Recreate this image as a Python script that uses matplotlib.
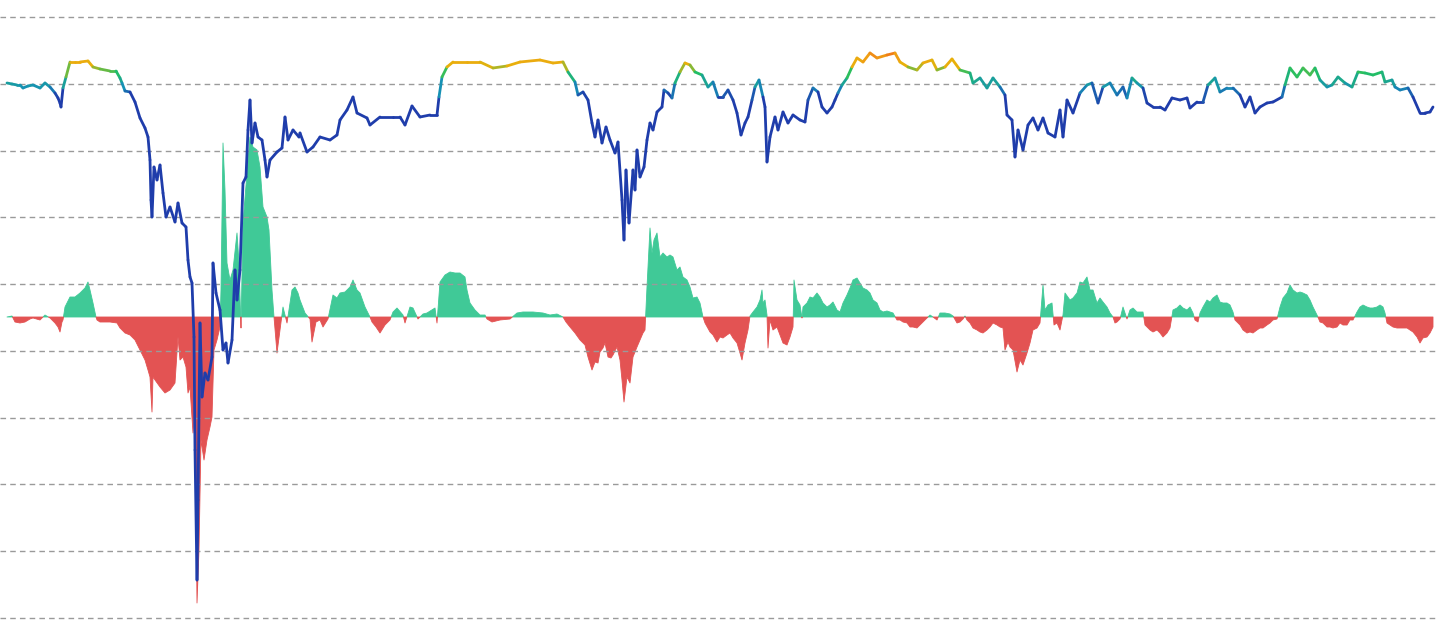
import numpy as np
import matplotlib
matplotlib.use("Agg")
import matplotlib.pyplot as plt
from matplotlib.collections import LineCollection
from matplotlib.colors import LinearSegmentedColormap, Normalize

# ---- line series (time index, value) ----
line_t = [7, 12, 17, 20, 23, 28, 33, 40, 45, 50, 55, 58, 60, 61, 63, 66, 70, 75, 80, 88,
          93, 100, 110, 116, 120, 122, 125, 130, 135, 140, 145, 148, 150, 151, 152, 154, 157, 160, 163, 166,
          170, 175, 178, 182, 186, 188, 190, 192, 194, 195, 197, 198, 200, 202, 205, 208, 212, 213, 216, 220,
          223, 226, 228, 232, 235, 237, 240, 243, 246, 248, 250, 252, 255, 258, 262, 265, 267, 270, 277, 282,
          285, 288, 293, 299, 300, 307, 313, 320, 330, 337, 340, 347, 353, 357, 367, 370, 380, 393, 400, 405,
          412, 420, 430, 437, 439, 442, 447, 453, 467, 480, 493, 507, 520, 540, 553, 563, 568, 575, 578, 583,
          588, 592, 595, 598, 602, 606, 610, 615, 618, 622, 624, 626, 629, 633, 635, 637, 640, 644, 647, 650,
          653, 657, 662, 664, 668, 672, 675, 680, 685, 690, 695, 702, 708, 713, 718, 723, 728, 733, 737, 741,
          745, 748, 752, 755, 759, 763, 765, 767, 770, 775, 778, 783, 788, 793, 800, 805, 808, 813, 818, 822,
          827, 832, 835, 838, 842, 847, 852, 857, 863, 870, 877, 887, 895, 900, 908, 917, 923, 932, 937, 945,
          952, 960, 970, 973, 980, 987, 993, 1000, 1005, 1007, 1012, 1015, 1018, 1023, 1028, 1033, 1038, 1043, 1048, 1055,
          1060, 1063, 1067, 1073, 1080, 1087, 1092, 1098, 1103, 1110, 1117, 1123, 1127, 1132, 1137, 1143, 1147, 1153, 1160, 1165,
          1172, 1180, 1187, 1190, 1197, 1203, 1208, 1215, 1220, 1227, 1233, 1240, 1245, 1250, 1255, 1260, 1267, 1273, 1282, 1285,
          1290, 1297, 1303, 1310, 1315, 1320, 1327, 1332, 1338, 1345, 1352, 1358, 1365, 1373, 1382, 1385, 1392, 1395, 1400, 1408,
          1413, 1420, 1425, 1430, 1433]
line_v = [535, 534, 533, 533, 530, 532, 533, 530, 535, 531, 525, 520, 515, 511, 530, 541, 556, 556, 556, 557,
          551, 549, 547, 547, 540, 535, 527, 526, 516, 500, 490, 481, 458, 418, 401, 451, 438, 453, 425, 401,
          411, 396, 415, 395, 391, 358, 341, 335, 281, 168, 38, 118, 295, 221, 245, 238, 261, 355, 325, 308,
          268, 275, 255, 278, 348, 318, 348, 435, 441, 488, 518, 475, 495, 481, 478, 458, 441, 458, 466, 470,
          501, 478, 488, 481, 485, 466, 471, 481, 478, 483, 498, 508, 521, 505, 500, 493, 501, 501, 501, 493,
          512, 501, 503, 503, 521, 541, 551, 556, 556, 556, 550, 552, 556, 558, 555, 556, 546, 536, 523, 526,
          518, 495, 481, 498, 475, 491, 478, 465, 476, 418, 378, 448, 395, 448, 428, 468, 441, 451, 478, 495,
          488, 506, 511, 528, 525, 520, 535, 546, 555, 553, 546, 543, 531, 536, 521, 521, 528, 518, 505, 483,
          495, 501, 518, 531, 538, 521, 511, 456, 481, 501, 488, 506, 495, 503, 498, 496, 518, 530, 526, 511,
          505, 511, 518, 525, 533, 540, 551, 560, 556, 565, 560, 563, 565, 556, 551, 548, 555, 558, 548, 551,
          559, 548, 545, 535, 540, 530, 540, 531, 523, 503, 498, 461, 488, 468, 493, 500, 488, 500, 485, 481,
          508, 481, 518, 505, 525, 533, 535, 515, 531, 535, 523, 531, 520, 540, 535, 530, 515, 511, 511, 508,
          520, 518, 520, 510, 516, 516, 533, 540, 526, 530, 530, 523, 511, 521, 505, 511, 515, 516, 521, 533,
          550, 541, 550, 543, 550, 538, 531, 533, 541, 535, 531, 546, 545, 543, 546, 536, 538, 531, 528, 530,
          521, 505, 505, 506, 511]

# ---- oscillator bars (time index, value) ----
bar_t = [7, 12, 15, 20, 25, 30, 33, 40, 45, 50, 55, 58, 60, 62, 63, 65, 70, 75, 80, 85,
         88, 90, 93, 96, 97, 100, 110, 117, 120, 125, 130, 135, 140, 145, 148, 150, 152, 153, 155, 160,
         165, 170, 175, 178, 180, 183, 186, 188, 190, 193, 195, 197, 199, 201, 204, 207, 210, 212, 214, 217,
         220, 221, 223, 225, 227, 230, 233, 237, 239, 241, 243, 247, 250, 253, 257, 260, 263, 267, 269, 272,
         274, 277, 280, 283, 287, 292, 295, 298, 300, 305, 310, 312, 316, 320, 323, 328, 333, 337, 340, 345,
         350, 353, 357, 360, 365, 370, 372, 376, 380, 385, 390, 393, 397, 403, 405, 410, 413, 418, 423, 427,
         435, 437, 440, 445, 450, 455, 460, 465, 467, 470, 475, 480, 485, 487, 492, 500, 510, 517, 523, 533,
         543, 550, 557, 563, 566, 570, 575, 580, 585, 588, 592, 595, 598, 600, 603, 605, 608, 611, 613, 617,
         620, 622, 624, 627, 630, 633, 637, 640, 643, 645, 647, 650, 652, 654, 657, 660, 663, 667, 670, 673,
         677, 680, 683, 687, 690, 693, 697, 700, 703, 705, 710, 713, 717, 720, 723, 727, 730, 733, 737, 740,
         742, 745, 748, 750, 753, 757, 760, 762, 763, 765, 767, 768, 770, 773, 777, 780, 783, 787, 790, 793,
         794, 797, 800, 802, 803, 807, 810, 813, 817, 820, 823, 827, 830, 833, 837, 840, 843, 847, 850, 853,
         857, 860, 863, 867, 870, 873, 877, 880, 883, 887, 890, 893, 897, 900, 903, 907, 910, 913, 917, 920,
         923, 927, 930, 933, 937, 940, 945, 950, 953, 957, 960, 963, 965, 967, 970, 973, 977, 980, 983, 987,
         990, 993, 997, 1000, 1003, 1005, 1008, 1010, 1013, 1017, 1020, 1023, 1027, 1030, 1033, 1037, 1040, 1043, 1045, 1048,
         1052, 1054, 1057, 1060, 1063, 1065, 1070, 1073, 1077, 1080, 1083, 1087, 1090, 1093, 1097, 1100, 1103, 1107, 1110, 1113,
         1115, 1117, 1120, 1123, 1127, 1130, 1133, 1137, 1140, 1143, 1145, 1150, 1153, 1157, 1160, 1163, 1167, 1170, 1173, 1177,
         1180, 1183, 1187, 1190, 1193, 1195, 1198, 1200, 1203, 1207, 1210, 1213, 1217, 1220, 1223, 1227, 1230, 1233, 1235, 1240,
         1243, 1247, 1250, 1253, 1257, 1260, 1263, 1267, 1270, 1273, 1277, 1280, 1283, 1287, 1290, 1293, 1297, 1300, 1303, 1307,
         1310, 1313, 1317, 1320, 1323, 1327, 1330, 1333, 1337, 1340, 1343, 1347, 1350, 1353, 1357, 1360, 1363, 1367, 1370, 1373,
         1377, 1380, 1383, 1385, 1387, 1390, 1393, 1397, 1400, 1403, 1407, 1410, 1413, 1417, 1420, 1423, 1427, 1430, 1433]
bar_v = [0, 1, -5, -6, -5, -2, -1, -3, 2, -1, -6, -10, -15, -5, -3, 10, 20, 20, 24, 29,
         35, 27, 14, 0, -3, -5, -5, -6, -11, -16, -18, -23, -33, -43, -53, -60, -95, -60, -63, -70,
         -76, -73, -66, -20, -43, -40, -50, -76, -70, -116, -83, -286, -233, -123, -143, -123, -110, -100, -33, -23,
         -10, 27, 174, 127, 54, 37, 47, 84, 54, -11, 94, 144, 180, 170, 167, 150, 110, 100, 87, 27,
         0, -36, -13, 10, -6, 27, 30, 24, 17, 4, -2, -25, -5, -3, -10, -2, 22, 19, 24, 25,
         30, 37, 27, 24, 10, 0, -5, -10, -16, -8, -3, 5, 9, 2, -6, 10, 9, -2, 3, 4,
         9, -6, 35, 42, 45, 44, 44, 40, 27, 14, 7, 2, 2, -2, -5, -3, -2, 4, 5, 5,
         4, 2, 3, 0, -5, -10, -16, -23, -28, -40, -53, -45, -46, -35, -31, -26, -40, -41, -38, -30,
         -43, -63, -85, -60, -66, -40, -30, -23, -16, -13, 30, 89, 64, 77, 84, 60, 64, 60, 62, 60,
         47, 50, 40, 37, 30, 19, 20, 14, 0, -6, -15, -18, -25, -20, -21, -18, -16, -21, -26, -36,
         -43, -26, -13, 1, 5, 10, 17, 27, 14, 17, 2, -31, -3, -13, -10, -18, -26, -28, -20, -10,
         37, 17, 12, -1, 10, 14, 20, 19, 24, 20, 14, 10, 12, 15, 7, 5, 14, 22, 29, 37,
         39, 34, 29, 27, 24, 17, 14, 7, 5, 6, 5, 4, -3, -3, -5, -6, -10, -10, -11, -8,
         -5, -1, 2, 0, -3, 4, 4, 3, 1, -6, -5, -2, 1, -3, -6, -11, -13, -15, -16, -13,
         -10, -6, -8, -10, -11, -33, -25, -30, -33, -55, -43, -48, -36, -26, -13, -11, -6, 32, 7, 12,
         14, -8, -6, -13, 2, 24, 17, 19, 24, 35, 34, 40, 27, 27, 14, 19, 15, 10, 4, 0,
         -6, -5, -2, 10, -2, 7, 9, 5, 5, 5, -8, -13, -15, -13, -16, -20, -16, -11, 7, 9,
         12, 9, 7, 10, 4, -3, -5, 4, 10, 17, 15, 19, 22, 15, 14, 14, 12, 5, -3, -8,
         -13, -16, -15, -16, -13, -11, -11, -8, -6, -3, -2, 10, 19, 24, 32, 27, 24, 25, 24, 22,
         17, 10, 2, -5, -6, -10, -10, -11, -10, -6, -8, -8, -3, -3, 5, 10, 12, 10, 9, 9,
         10, 12, 10, 4, -6, -8, -10, -11, -11, -11, -11, -13, -15, -20, -26, -21, -20, -16, -10]

W, H = 1440, 633
fig = plt.figure(figsize=(W / 100, H / 100), dpi=100)
fig.patch.set_facecolor("white")
rect = [0, 0, 1436 / 1440, 1]

# bars axis (with grid)
axb = fig.add_axes(rect)
axb.set_xlim(0, 1436)
axb.set_ylim(-316, 317)
bt = np.array(bar_t, float)
bv = np.array(bar_v, float)
green = "#40c997"
red = "#e35353"
axb.fill_between(bt, 0, bv, where=bv >= 0, interpolate=True, color=green, lw=0.6, edgecolor=green)
axb.fill_between(bt, 0, bv, where=bv <= 0, interpolate=True, color=red, lw=0.6, edgecolor=red)
axb.set_yticks(np.linspace(300, -301, 10))
axb.set_axisbelow(False)
axb.yaxis.grid(True, color="#9a9a9a", linestyle=(0, (4, 3)), linewidth=1.0)
axb.xaxis.grid(False)
axb.tick_params(left=False, bottom=False, labelleft=False, labelbottom=False)
for s in axb.spines.values():
    s.set_visible(False)

# line axis
axl = fig.add_axes(rect)
axl.set_xlim(0, 1436)
axl.set_ylim(-15, 618)
axl.patch.set_alpha(0)
axl.axis("off")

lt = np.array(line_t, float)
lv = np.array(line_v, float)
pts = np.column_stack([lt, lv]).reshape(-1, 1, 2)
segs = np.concatenate([pts[:-1], pts[1:]], axis=1)
cmap = LinearSegmentedColormap.from_list(
    "heat",
    [(0.0, "#1f3dab"), (0.12, "#1f3dab"), (0.3, "#1690b6"), (0.58, "#22c063"),
     (0.74, "#e8b00a"), (0.86, "#eea812"), (1.0, "#f2621c")])
norm = Normalize(515, 567)
cvals = (lv[:-1] + lv[1:]) / 2
lc = LineCollection(segs, cmap=cmap, norm=norm, linewidths=2.0, capstyle="round", joinstyle="round")
lc.set_array(cvals)
axl.add_collection(lc)

fig.savefig("out.png", dpi=100, facecolor="white")
